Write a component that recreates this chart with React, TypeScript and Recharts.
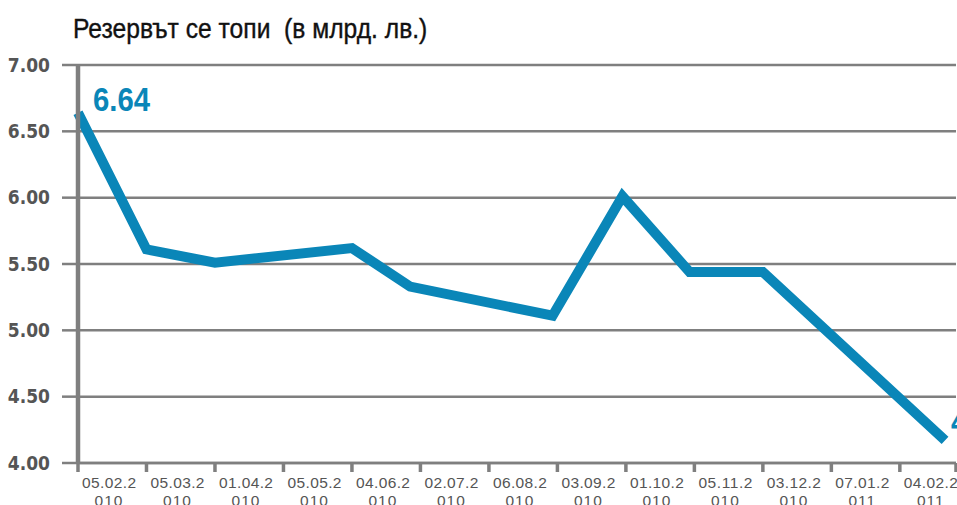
import { LineChart, Line, XAxis, YAxis, CartesianGrid, LabelList } from 'recharts';

// category labels (one per tick mark on the x axis)
const dateLabels = [
  '05.02.2010', '05.03.2010', '01.04.2010', '05.05.2010', '04.06.2010', '02.07.2010',
  '06.08.2010', '03.09.2010', '01.10.2010', '05.11.2010', '03.12.2010', '07.01.2011', '04.02.2011',
];

// where each observation sits along the category axis (0 = first label)
const pointPos = [0, 1, 2, 4, 4.85, 6.93, 7.95, 8.93, 10, 12.66];
// reserve, bn leva
const reserve = [6.64, 5.61, 5.51, 5.62, 5.33, 5.11, 6.01, 5.44, 5.44, 4.17];

const yTicks = [4, 4.5, 5, 5.5, 6, 6.5, 7];
const axisEnd = 12.82;

const data = pointPos.map((pos, i) => ({ pos, value: reserve[i] }));
const xTicks = [...dateLabels.map((_, i) => i), axisEnd];

const BLUE = '#0a86b8';
const GRAY = '#7f7f7f';
const FONT = "'Liberation Sans', Arial, sans-serif";

function DateTick(props: any) {
  const { x, y, payload } = props;
  const label = dateLabels[payload.value];
  if (!label) return null;
  return (
    <text x={x + 31} y={y} textAnchor="middle" fill="#555" fontFamily={FONT} fontSize={15.5}>
      <tspan x={x + 31} dy={14} textLength={54} lengthAdjust="spacing">{label.slice(0, 7)}</tspan>
      <tspan x={x + 31} dy={18} letterSpacing={1}>{label.slice(7)}</tspan>
    </text>
  );
}

function EndLabel(props: any) {
  const { x, y, value, index } = props;
  const last = index === data.length - 1;
  if (index !== 0 && !last) return null;
  return (
    <text
      x={x + (last ? 6 : 15)}
      y={y + (last ? -7 : -2)}
      fill={BLUE}
      fontFamily={FONT}
      fontWeight="bold"
      fontSize={34}
      textLength={57}
      lengthAdjust="spacingAndGlyphs"
    >
      {value.toFixed(2)}
    </text>
  );
}

export default function App() {
  return (
    <div style={{ position: 'absolute', left: 0, top: 0, width: 957, height: 505, overflow: 'hidden', background: '#fff' }}>
      <div
        style={{
          position: 'absolute',
          left: 73,
          top: 13,
          fontFamily: FONT,
          fontSize: 28,
          color: '#111',
          whiteSpace: 'pre',
          transform: 'scaleX(0.88)',
          transformOrigin: 'left top',
          WebkitTextStroke: '0.4px #111',
        }}
      >
        {'Резервът се топи  (в млрд. лв.)'}
      </div>
      <LineChart width={957} height={505} data={data} margin={{ top: 65, right: 1, left: 0, bottom: 0 }}>
        <CartesianGrid vertical={false} stroke={GRAY} strokeWidth={2.5} />
        <XAxis
          type="number"
          dataKey="pos"
          domain={[0, axisEnd]}
          ticks={xTicks}
          interval={0}
          height={42}
          axisLine={{ stroke: GRAY, strokeWidth: 2.5 }}
          tickLine={{ stroke: GRAY, strokeWidth: 3.5 }}
          tickSize={9}
          tick={<DateTick />}
        />
        <YAxis
          domain={[4, 7]}
          ticks={yTicks}
          width={78}
          axisLine={{ stroke: GRAY, strokeWidth: 4.5 }}
          tickLine={{ stroke: GRAY, strokeWidth: 2.5 }}
          tickSize={16}
          tickMargin={12}
          tickFormatter={(v: number) => v.toFixed(2)}
          tick={{ fill: '#555', fontSize: 19, fontWeight: 'bold', fontFamily: "'DejaVu Sans Condensed', 'DejaVu Sans', sans-serif" }}
        />
        <Line
          type="linear"
          dataKey="value"
          stroke={BLUE}
          strokeWidth={10}
          strokeLinecap="butt"
          strokeLinejoin="miter"
          dot={false}
          activeDot={false}
          isAnimationActive={false}
        >
          <LabelList dataKey="value" content={<EndLabel />} />
        </Line>
      </LineChart>
    </div>
  );
}
